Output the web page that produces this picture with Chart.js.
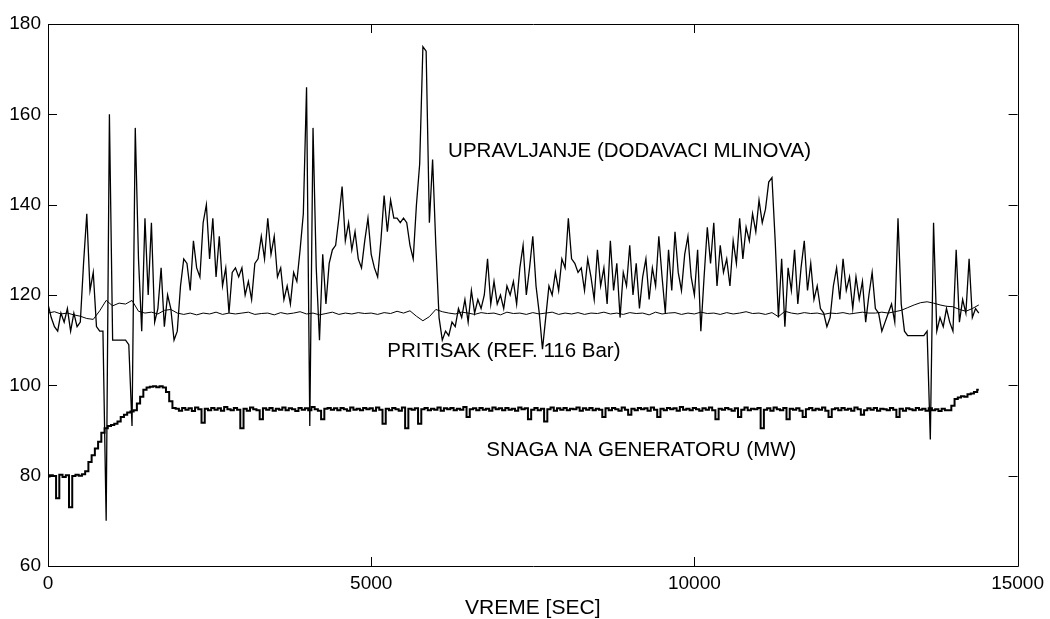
<!DOCTYPE html>
<html>
<head>
<meta charset="utf-8">
<script src="https://cdn.jsdelivr.net/npm/chart.js@4"></script>
<style>
  html, body { margin: 0; padding: 0; background: #fff; }
  #wrap { width: 1050px; height: 619px; position: relative; }
</style>
</head>
<body>
<div id="wrap"><canvas id="myChart"></canvas></div>
<script>
// sampling steps of the recorded signals (seconds)
const controlStep = 50;
const powerStep = 50;
const pressureStep = 100;

// UPRAVLJANJE (DODAVACI MLINOVA)
const controlValues = [
  118,115,113,112,116,114,117,112,116,113,114,
  127,138,121,125,113,
  112,112,70,160,110,
  110,110,110,110,109,
  91,157,128,
  112,137,120,136,114,117,126,113,120,117,110,
  112,122,128,127,121,132,126,124,136,140,
  128,137,124,133,122,126,116,125,126,124,
  126,120,123,119,127,128,133,128,137,129,
  133,124,126,119,122,118,125,123,130,138,
  166,91,157,126,110,129,118,127,130,131,
  137,144,132,136,130,134,128,126,132,137,
  129,126,124,132,142,134,141,137,137,136,
  137,136,131,128,140,149,175,174,136,150,
  131,115,110,112,111,114,113,117,115,119,
  114,121,116,119,117,120,128,118,123,118,
  120,117,122,120,123,118,126,131,120,126,
  133,122,116,108,115,122,120,125,121,128,
  126,137,128,127,125,126,121,128,124,119,
  130,122,126,118,132,121,127,115,125,122,
  131,120,127,117,124,128,119,126,122,133,
  124,116,130,121,134,125,121,129,133,124,
  120,130,112,124,135,127,136,122,131,125,
  128,122,132,127,137,128,135,132,138,134,
  141,136,139,145,146,132,115,128,113,126,
  121,130,118,126,132,121,127,119,122,117,
  116,113,115,122,126,119,128,121,124,117,
  124,119,123,114,120,125,117,116,112,114,
  116,118,114,137,118,112,111,111,111,111,
  111,111,112,88,136,112,115,113,117,114,
  112,130,114,119,116,128,115,117,116
];

// SNAGA NA GENERATORU (MW)
const powerValues = [
  79.8,80.1,79.9,75,80.2,79.7,80.1,73,79.9,80.2,80,80.3,
  81,83,84.5,86,87.5,89.5,90.5,91,91.2,91.5,92,93,93.5,94,94.2,94.5,
  96,97.5,99,99.5,99.7,99.8,99.6,99.8,99.5,98.5,96.5,95,94.8,
  94.4,95.0,94.6,94.9,94.3,95.1,94.7,91.7,94.8,94.5,
  95.0,94.6,94.9,94.4,95.2,94.7,94.5,95.0,94.6,90.5,
  94.8,94.4,95.1,94.7,94.5,92.5,94.9,94.6,95.0,94.4,
  94.8,94.6,95.1,94.5,94.9,94.7,94.3,95.0,94.6,94.9,
  94.5,95.2,94.7,94.4,92.5,94.8,95.0,94.6,94.9,94.5,
  95.0,94.7,94.4,95.1,94.6,94.8,94.5,95.0,94.7,94.9,
  94.4,95.1,94.6,91.5,94.8,94.5,95.0,94.7,94.4,95.1,
  90.5,94.8,94.6,94.9,91.5,94.7,95.0,94.5,94.8,94.6,
  95.1,94.4,94.9,94.7,95.0,94.5,94.8,94.6,95.2,93.0,
  94.7,94.9,94.5,95.0,94.6,94.8,94.4,95.1,94.7,94.9,
  94.5,95.0,94.6,94.8,94.4,95.1,94.7,94.9,92.5,94.6,
  95.0,94.5,94.8,92.0,94.7,95.1,94.4,94.9,94.6,95.0,
  94.5,94.8,94.7,95.1,94.4,94.9,94.6,95.0,94.5,94.8,
  94.6,93.0,94.9,94.5,95.0,94.7,94.4,95.1,94.6,93.5,
  94.8,94.5,95.0,94.7,94.9,94.4,95.1,94.6,93.0,94.8,
  94.5,95.0,94.7,94.9,94.4,95.2,94.6,94.8,94.5,95.0,
  94.7,94.4,94.9,94.6,95.1,94.5,92.5,94.8,94.6,95.0,
  94.7,94.4,94.9,93.0,94.6,95.1,94.5,94.8,94.7,95.0,
  90.5,94.6,94.9,94.4,95.1,94.7,94.5,95.0,92.5,94.8,
  94.6,94.9,94.4,93.0,94.7,95.0,94.5,94.8,94.6,95.1,
  94.4,93.0,94.7,94.9,94.5,95.0,94.6,94.8,94.4,95.1,
  94.7,93.5,94.5,94.9,94.6,95.0,94.4,94.8,94.7,94.5,
  95.0,94.6,93.0,94.8,94.4,94.9,94.7,94.5,95.0,94.6,
  94.8,94.4,94.9,94.5,94.7,94.3,94.8,94.5,
  94.5,95.5,97,97.3,97.6,97.5,98,98.2,98.5,99
];

// PRITISAK (REF. 116 Bar)
const pressureValues = [
  116,116.3,115.8,116,115.6,115.3,114.8,114.6,116.5,118.8,
  117.6,118.2,118,118.8,116.4,116,116.2,115.8,116.6,116.8,
  116,115.7,116,115.6,116,115.8,116.2,115.7,116,115.8,
  116,116.2,115.7,115.9,116,115.6,116.1,115.8,116,116.3,
  115.8,116,115.6,115.9,116.2,115.7,116,115.8,116.1,115.9,
  116,115.7,116.1,115.9,116.4,116,116.5,115.3,114.3,115.2,
  116.8,116.3,116,115.8,116.2,116,115.7,116.1,115.9,116,
  115.6,116.2,115.9,116,115.7,116.1,115.8,116,116.2,115.7,
  116,115.8,116.1,115.7,116,115.9,116.2,115.8,116,115.7,
  116.1,115.9,116,115.6,116.2,115.8,116,116.1,115.7,116,
  115.8,116.2,115.9,116,115.7,116.1,115.8,116,116.3,115.9,
  116,115.7,116.1,115.2,116.4,116,115.8,116.1,115.9,116,
  115.7,116,115.9,116.1,115.8,116,116.2,116,
  116,116.2,116,116.3,116.6,117.2,117.8,118.3,118.5,118.2,
  117.8,117.5,117.4,116.8,116.4,117,117.8
];

const xTicks = [0, 5000, 10000, 15000];
const yTicks = [60, 80, 100, 120, 140, 160, 180];

const seriesLabels = [
  { text: 'UPRAVLJANJE (DODAVACI MLINOVA)', x: 6190, y: 151.7 },
  { text: 'PRITISAK (REF. 116 Bar)', x: 5250, y: 107.6 },
  { text: 'SNAGA NA GENERATORU (MW)', x: 6780, y: 85.7 }
];

const FONT = '"Liberation Sans", Arial, sans-serif';

function toPoints(values, step) {
  return values.map((v, i) => ({ x: i * step, y: v }));
}

// frame with inward ticks (matlab style) + text labels in the plot
const framePlugin = {
  id: 'frame',
  afterDraw(chart) {
    const ctx = chart.ctx;
    const a = chart.chartArea;
    const xs = chart.scales.x, ys = chart.scales.y;
    const tl = 9;
    ctx.save();
    ctx.strokeStyle = '#000';
    ctx.lineWidth = 1;
    ctx.beginPath();
    ctx.rect(Math.round(a.left) + 0.5, Math.round(a.top) + 0.5,
             Math.round(a.right - a.left), Math.round(a.bottom - a.top));
    for (const v of yTicks) {
      const py = Math.round(ys.getPixelForValue(v)) + 0.5;
      ctx.moveTo(a.left, py); ctx.lineTo(a.left + tl, py);
      ctx.moveTo(a.right, py); ctx.lineTo(a.right - tl, py);
    }
    for (const v of xTicks) {
      const px = Math.round(xs.getPixelForValue(v)) + 0.5;
      ctx.moveTo(px, a.bottom); ctx.lineTo(px, a.bottom - tl);
      ctx.moveTo(px, a.top); ctx.lineTo(px, a.top + tl);
    }
    ctx.stroke();

    ctx.fillStyle = '#000';
    ctx.font = '20.5px ' + FONT;
    ctx.textAlign = 'left';
    ctx.textBaseline = 'middle';
    for (const l of seriesLabels) {
      ctx.fillText(l.text, xs.getPixelForValue(l.x), ys.getPixelForValue(l.y));
    }
    ctx.restore();
  }
};

const ctx = document.getElementById('myChart').getContext('2d');
new Chart(ctx, {
  type: 'line',
  data: {
    datasets: [
      {
        label: 'PRITISAK',
        data: toPoints(pressureValues, pressureStep),
        borderColor: '#000',
        borderWidth: 1,
      },
      {
        label: 'UPRAVLJANJE',
        data: toPoints(controlValues, controlStep),
        borderColor: '#000',
        borderWidth: 1.3,
      },
      {
        label: 'SNAGA',
        data: toPoints(powerValues, powerStep),
        borderColor: '#000',
        borderWidth: 2,
        stepped: 'middle',
      },
    ],
  },
  options: {
    responsive: true,
    maintainAspectRatio: false,
    animation: false,
    layout: { padding: { top: 24, right: 30, left: 0, bottom: 0 } },
    elements: { point: { radius: 0 }, line: { tension: 0 } },
    plugins: { legend: { display: false }, tooltip: { enabled: false } },
    scales: {
      x: {
        type: 'linear',
        min: 0, max: 15000,
        grid: { display: false, drawTicks: false },
        border: { display: false },
        afterFit: s => { s.height = 53; },
        afterBuildTicks: s => { s.ticks = xTicks.map(v => ({ value: v })); },
        ticks: {
          color: '#000',
          font: { family: FONT, size: 19 },
          padding: 6,
          maxRotation: 0,
          callback: v => String(v),
        },
        title: {
          display: true,
          text: 'VREME [SEC]',
          color: '#000',
          font: { family: FONT, size: 21, lineHeight: 1 },
          padding: { top: 0, bottom: 0 },
        },
      },
      y: {
        type: 'linear',
        min: 60, max: 180,
        grid: { display: false, drawTicks: false },
        border: { display: false },
        afterFit: s => { s.width = 48; },
        afterBuildTicks: s => { s.ticks = yTicks.map(v => ({ value: v })); },
        ticks: {
          color: '#000',
          font: { family: FONT, size: 19 },
          padding: 7,
          callback: v => String(v),
        },
      },
    },
  },
  plugins: [framePlugin],
});
</script>
</body>
</html>
